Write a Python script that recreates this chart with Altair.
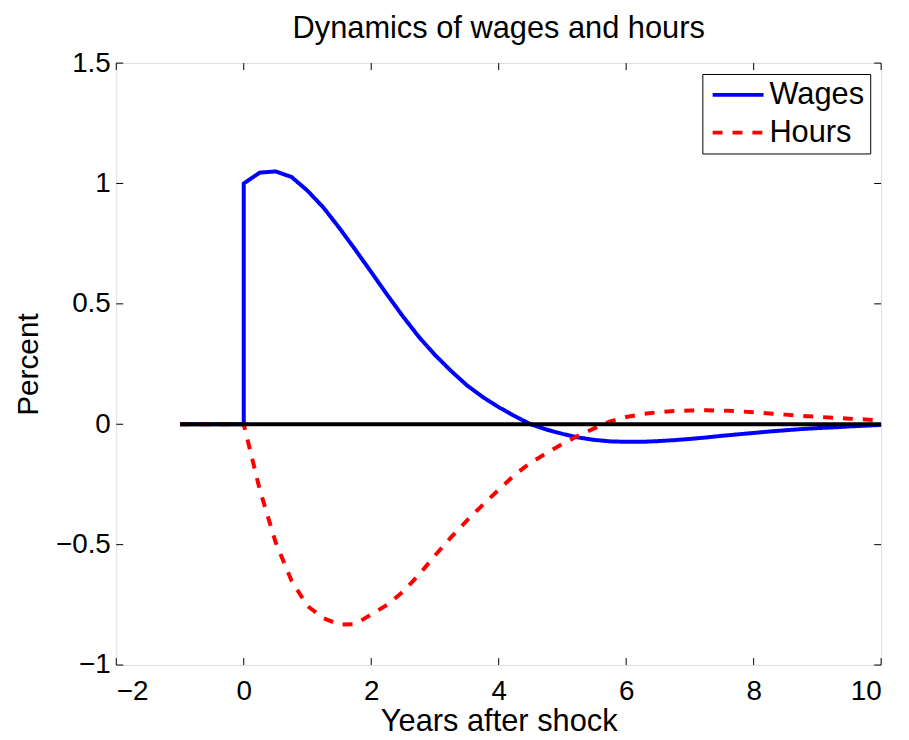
import altair as alt
import pandas as pd

# ---- data ----
pre_years = [-1.0, -0.75, -0.5, -0.25]
quarters = [0.0, 0.25, 0.5, 0.75, 1.0, 1.25, 1.5, 1.75, 2.0, 2.25, 2.5, 2.75,
            3.0, 3.25, 3.5, 3.75, 4.0, 4.25, 4.5, 4.75, 5.0, 5.25, 5.5, 5.75,
            6.0, 6.25, 6.5, 6.75, 7.0, 7.25, 7.5, 7.75, 8.0, 8.25, 8.5, 8.75,
            9.0, 9.25, 9.5, 9.75, 10.0]
wages_pre = [0.0, 0.0, 0.0, 0.0, 0.0]  # up to and including the instant before the shock
wages = [1.0, 1.045, 1.05, 1.027, 0.97, 0.90, 0.815, 0.725, 0.632, 0.538, 0.447,
         0.362, 0.288, 0.222, 0.162, 0.113, 0.071, 0.034, 0.0, -0.022, -0.04,
         -0.055, -0.065, -0.071, -0.073, -0.073, -0.07, -0.066, -0.061, -0.055,
         -0.048, -0.042, -0.036, -0.03, -0.025, -0.02, -0.016, -0.013, -0.009,
         -0.006, -0.003]
hours_pre = [0.0, 0.0, 0.0, 0.0]
hours = [0.0, -0.27, -0.49, -0.65, -0.755, -0.805, -0.832, -0.83, -0.79, -0.75,
         -0.695, -0.625, -0.545, -0.47, -0.40, -0.335, -0.272, -0.21, -0.16,
         -0.12, -0.082, -0.047, -0.017, 0.012, 0.03, 0.042, 0.05, 0.055, 0.057,
         0.058, 0.057, 0.054, 0.05, 0.045, 0.04, 0.035, 0.031, 0.027, 0.023,
         0.02, 0.016]
zero_years = [-1.0, 10.0]
zero_vals = [0.0, 0.0]
series_names = ["Wages", "Hours"]
series_colors = ["#0000ff", "#ff0000"]
x_ticks = [-2, 0, 2, 4, 6, 8, 10]
y_ticks = [-1, -0.5, 0, 0.5, 1, 1.5]

W, H = 770, 606
FONT = "Liberation Sans"
FS = 31      # title / legend / x title
LFS = 28     # tick labels
TFS = 30     # y title

wx = pre_years + [0.0] + quarters
wy = wages_pre + wages
hx = pre_years + quarters
hy = hours_pre + hours
df = pd.DataFrame({
    "year": wx + hx,
    "value": wy + hy,
    "series": ["Wages"] * len(wx) + ["Hours"] * len(hx),
    "ord": list(range(len(wx))) + list(range(len(hx))),
})
zdf = pd.DataFrame({"year": zero_years, "value": zero_vals})
xdf = pd.DataFrame({"year": x_ticks})
ydf = pd.DataFrame({"value": y_ticks})

xs = alt.Scale(domain=[-2, 10], nice=False, zero=False)
ys = alt.Scale(domain=[-1, 1.5], nice=False, zero=False)

x_axis = alt.Axis(
    values=x_ticks, title="Years after shock", format="~r", ticks=False,
    domain=False, grid=False, labelFontSize=LFS, titleFontSize=FS,
    titleFontWeight="normal", labelPadding=35, labelBaseline="alphabetic",
    titleY=66, titleBaseline="alphabetic",
    labelFont=FONT, titleFont=FONT, labelColor="black", titleColor="black")
y_axis = alt.Axis(
    values=y_ticks, title="Percent", format="~r", ticks=False,
    domain=False, grid=False, labelFontSize=LFS, titleFontSize=TFS,
    titleFontWeight="normal", labelPadding=6, titlePadding=12,
    labelFont=FONT, titleFont=FONT, labelColor="black", titleColor="black")

X = alt.X("year:Q", scale=xs, axis=x_axis)
Y = alt.Y("value:Q", scale=ys, axis=y_axis)

legend = alt.Legend(title=None, orient="none", legendX=590, legendY=11,
                    strokeColor="black", fillColor="white", padding=5.5,
                    labelFontSize=FS, labelFont=FONT, labelColor="black",
                    symbolType="M-2.5,0H2.5", symbolSize=420, symbolOffset=15,
                    symbolStrokeWidth=4, labelOffset=16, rowPadding=6)

lines = alt.Chart(df).mark_line(strokeWidth=4, strokeCap="butt").encode(
    x=X, y=Y,
    color=alt.Color("series:N", scale=alt.Scale(domain=series_names, range=series_colors),
                    legend=legend),
    strokeDash=alt.StrokeDash("series:N", scale=alt.Scale(domain=series_names,
                                                          range=[[1, 0], [10, 10]]),
                              legend=legend),
    order="ord:Q",
)

zero = alt.Chart(zdf).mark_line(color="black", strokeWidth=4).encode(x=X, y=Y)

tick_style = dict(color="black", strokeWidth=1)
bt = alt.Chart(xdf).mark_rule(**tick_style).encode(x=X, y=alt.value(H), y2=alt.value(H - 7))
tt = alt.Chart(xdf).mark_rule(**tick_style).encode(x=X, y=alt.value(0), y2=alt.value(7))
lt = alt.Chart(ydf).mark_rule(**tick_style).encode(y=Y, x=alt.value(0), x2=alt.value(7))
rt = alt.Chart(ydf).mark_rule(**tick_style).encode(y=Y, x=alt.value(W), x2=alt.value(W - 7))

chart = alt.layer(lines, zero, bt, tt, lt, rt).properties(
    width=W, height=H,
    title=alt.TitleParams("Dynamics of wages and hours", fontSize=FS, font=FONT,
                          fontWeight="normal", color="black", offset=4, anchor="middle"),
    autosize=alt.AutoSizeParams(type="none"),
    padding={"left": 109, "top": 53, "right": 20, "bottom": 72},
).configure_view(stroke="black", strokeWidth=1.2).configure(background="white")

chart.save("out.html", embed_options={"renderer": "svg", "actions": False})
